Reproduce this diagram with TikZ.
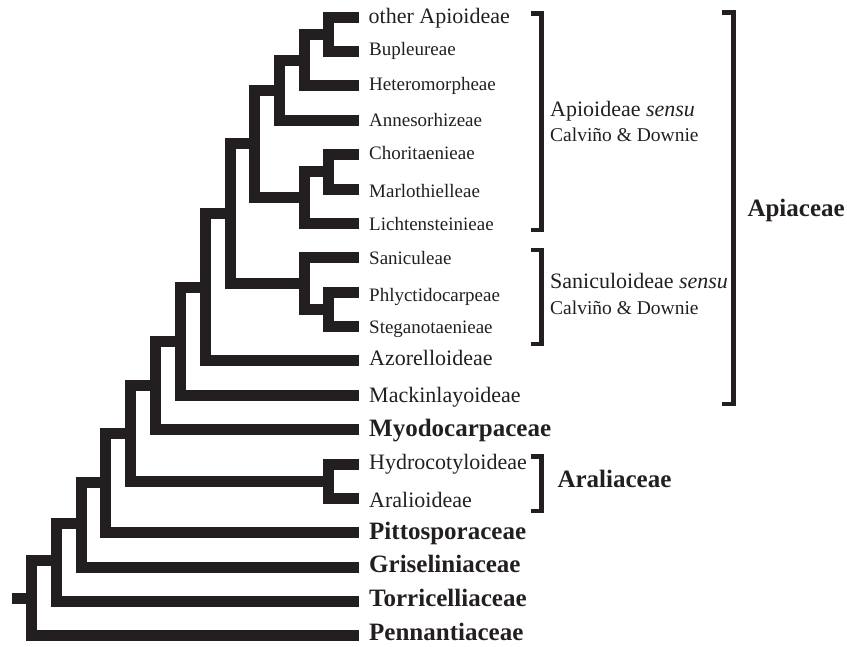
\documentclass[tikz,border=0pt]{standalone}
\usepackage{fontspec}
\setmainfont{Liberation Serif}
\definecolor{ink}{HTML}{231F20}
\begin{document}
\begin{tikzpicture}[x=1pt,y=-1pt,
  branch/.style={draw=ink, line width=11pt, line join=miter, line cap=butt},
  brk/.style={draw=ink, line width=4.8pt, line join=miter, line cap=butt},
  tribe/.style={anchor=base west, inner sep=0pt, text=ink, font=\fontsize{19}{22}\selectfont},
  subfam/.style={anchor=base west, inner sep=0pt, text=ink, font=\fontsize{22}{26}\selectfont},
  fam/.style={anchor=base west, inner sep=0pt, text=ink, font=\fontsize{25}{30}\selectfont\bfseries},
  grp/.style={anchor=base west, inner sep=0pt, text=ink},
]
\useasboundingbox (0,0) rectangle (847,646);
% leaf tips
\coordinate (t1) at (359,17);
\coordinate (t2) at (359,51.4);
\coordinate (t3) at (359,85.8);
\coordinate (t4) at (359,120.2);
\coordinate (t5) at (359,154.6);
\coordinate (t6) at (359,189.0);
\coordinate (t7) at (359,223.3);
\coordinate (t8) at (359,257.7);
\coordinate (t9) at (359,292.1);
\coordinate (t10) at (359,326.5);
\coordinate (t11) at (359,360.9);
\coordinate (t12) at (359,395.3);
\coordinate (t13) at (359,429.7);
\coordinate (t14) at (359,464.1);
\coordinate (t15) at (359,498.5);
\coordinate (t16) at (359,532.8);
\coordinate (t17) at (359,567.2);
\coordinate (t18) at (359,601.6);
\coordinate (t19) at (359,635.5);
% internal nodes
\coordinate (n1) at (328,34.2);
\coordinate (n2) at (304,60);
\coordinate (n3) at (279,90.1);
\coordinate (n4) at (328,171.8);
\coordinate (n5) at (304,197.6);
\coordinate (n6) at (254,143.8);
\coordinate (n7) at (328,309.3);
\coordinate (n8) at (304,283.5);
\coordinate (n9) at (230,213.7);
\coordinate (n10) at (205,287.3);
\coordinate (n11) at (180,341.3);
\coordinate (n12) at (155,385.5);
\coordinate (n13) at (328,481.3);
\coordinate (n14) at (130,433.4);
\coordinate (n15) at (105,482.5);
\coordinate (n16) at (81,523);
\coordinate (n17) at (56,560.5);
\coordinate (n18) at (31.5,598);
\coordinate (r) at (12,598);
% branches
\draw[branch] (n1) |- (t1);  \draw[branch] (n1) |- (t2);
\draw[branch] (n2) |- (n1);  \draw[branch] (n2) |- (t3);
\draw[branch] (n3) |- (n2);  \draw[branch] (n3) |- (t4);
\draw[branch] (n4) |- (t5);  \draw[branch] (n4) |- (t6);
\draw[branch] (n5) |- (n4);  \draw[branch] (n5) |- (t7);
\draw[branch] (n6) |- (n3);  \draw[branch] (n6) |- (n5);
\draw[branch] (n7) |- (t9);  \draw[branch] (n7) |- (t10);
\draw[branch] (n8) |- (t8);  \draw[branch] (n8) |- (n7);
\draw[branch] (n9) |- (n6);  \draw[branch] (n9) |- (n8);
\draw[branch] (n10) |- (n9); \draw[branch] (n10) |- (t11);
\draw[branch] (n11) |- (n10); \draw[branch] (n11) |- (t12);
\draw[branch] (n12) |- (n11); \draw[branch] (n12) |- (t13);
\draw[branch] (n13) |- (t14); \draw[branch] (n13) |- (t15);
\draw[branch] (n14) |- (n12); \draw[branch] (n14) |- (n13);
\draw[branch] (n15) |- (n14); \draw[branch] (n15) |- (t16);
\draw[branch] (n16) |- (n15); \draw[branch] (n16) |- (t17);
\draw[branch] (n17) |- (n16); \draw[branch] (n17) |- (t18);
\draw[branch] (n18) |- (n17); \draw[branch] (n18) |- (t19);
\draw[branch] (r) -- (n18);
% leaf labels
\node[subfam] (l1) at (368.5,23) {other Apioideae};
\node[tribe] (l2) at (369,55.7) {Bupleureae};
\node[tribe] (l3) at (369,90.7) {Heteromorpheae};
\node[tribe] (l4) at (369,126.5) {Annesorhizeae};
\node[tribe] (l5) at (369,159.3) {Choritaenieae};
\node[tribe] (l6) at (369,197.5) {Marlothielleae};
\node[tribe] (l7) at (369,230) {Lichtensteinieae};
\node[tribe] (l8) at (369,264.3) {Saniculeae};
\node[tribe] (l9) at (369,301) {Phlyctidocarpeae};
\node[tribe] (l10) at (369,333.3) {Steganotaenieae};
\node[subfam] (l11) at (369,365.7) {Azorelloideae};
\node[subfam] (l12) at (369,402.7) {Mackinlayoideae};
\node[fam] (l13) at (369,436.7) {Myodocarpaceae};
\node[subfam] (l14) at (369,469.3) {Hydrocotyloideae};
\node[subfam] (l15) at (369,507.7) {Aralioideae};
\node[fam] (l16) at (369,539.3) {Pittosporaceae};
\node[fam] (l17) at (369,572.5) {Griseliniaceae};
\node[fam] (l18) at (369,606.7) {Torricelliaceae};
\node[fam] (l19) at (369,640.7) {Pennantiaceae};
% brackets
\coordinate (a1) at (531,13.5); \coordinate (a2) at (541.8,13.5);
\coordinate (a3) at (541.8,230); \coordinate (a4) at (531,230);
\draw[brk] (a1) -- (a2) -- (a3) -- (a4);
\coordinate (s1) at (531,250); \coordinate (s2) at (541.8,250);
\coordinate (s3) at (541.8,344); \coordinate (s4) at (531,344);
\draw[brk] (s1) -- (s2) -- (s3) -- (s4);
\coordinate (p1) at (722,12.5); \coordinate (p2) at (733.4,12.5);
\coordinate (p3) at (733.4,404); \coordinate (p4) at (722,404);
\draw[brk] (p1) -- (p2) -- (p3) -- (p4);
\coordinate (r1) at (531,456.5); \coordinate (r2) at (541.8,456.5);
\coordinate (r3) at (541.8,511); \coordinate (r4) at (531,511);
\draw[brk] (r1) -- (r2) -- (r3) -- (r4);
% group labels
\node[grp, font=\fontsize{22}{26}\selectfont] (g1) at (550,116) {Apioideae \textit{sensu}};
\node[grp, font=\fontsize{19.5}{23}\selectfont] (g2) at (550,141.7) {Calviño \& Downie};
\node[grp, font=\fontsize{22}{26}\selectfont] (g3) at (550,288.3) {Saniculoideae \textit{sensu}};
\node[grp, font=\fontsize{19.5}{23}\selectfont] (g4) at (550,314) {Calviño \& Downie};
\node[fam] (g5) at (747.3,216.7) {Apiaceae};
\node[fam] (g6) at (557.3,487.7) {Araliaceae};
\end{tikzpicture}
\end{document}
